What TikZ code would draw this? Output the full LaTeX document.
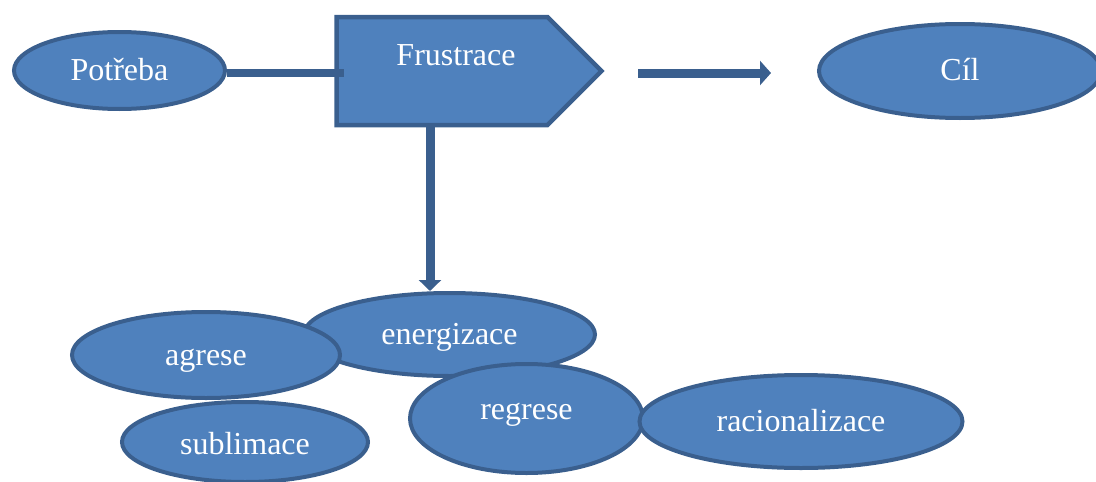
\documentclass[tikz,border=0pt]{standalone}
\usepackage{fontspec}
\setmainfont{Liberation Serif}
\usetikzlibrary{shapes.geometric,shapes.symbols,arrows.meta}
\definecolor{fillblue}{HTML}{4F81BD}
\definecolor{edgeblue}{HTML}{3A5F8E}
\begin{document}
\begin{tikzpicture}[x=1pt,y=-1pt,
  txt/.style={text=white, font=\fontsize{32}{36}\selectfont},
  bub/.style={ellipse, draw=edgeblue, fill=fillblue, line width=4pt, inner sep=0pt, txt,
              text height=24pt, text depth=4pt},
  conn/.style={draw=edgeblue, line width=9pt}]
\useasboundingbox (0,0) rectangle (1096,482);
% top row
\node[bub, minimum width=211, minimum height=77] (potreba) at (119.5,70.5) {Potřeba};
\node[signal, signal to=east, signal pointer angle=90, draw=edgeblue, fill=fillblue,
      line width=4.5pt, minimum width=265, minimum height=108, inner sep=0pt] (frbox) at (442,71) {};
\node[txt, anchor=base] (frtext) at (456,65) {Frustrace};
\draw[conn, line width=8.5pt] ([yshift=-2.5pt]potreba.east) -- ([xshift=10pt,yshift=-2pt]frbox.west);
\node[bub, minimum width=282, minimum height=94, text height=22pt, text depth=4pt] (cil) at (960,71) {Cíl};
\coordinate (a1) at (638,73);
\coordinate (a2) at (771,73);
\draw[conn, -{Triangle[length=11pt,width=24pt]}] (a1) -- (a2);
% bottom group
\node[bub, minimum width=291, minimum height=83] (energ) at (449.5,334.5) {energizace};
\node[bub, minimum width=246, minimum height=80, text height=26pt, text depth=2pt] (subl) at (245,442) {sublimace};
\node[bub, minimum width=268, minimum height=86] (agrese) at (206,355) {agrese};
\node[bub, minimum width=233, minimum height=109, text height=16pt, text depth=14pt] (regrese) at (526.5,418.5) {regrese};
\node[bub, minimum width=323, minimum height=93, text height=24pt, text depth=5pt] (racio) at (801,421.5) {racionalizace};
\coordinate (vtop) at (430,127);
\draw[conn, -{Triangle[length=11pt,width=22pt]}] (vtop) -- (vtop |- energ.north);
\end{tikzpicture}
\end{document}
